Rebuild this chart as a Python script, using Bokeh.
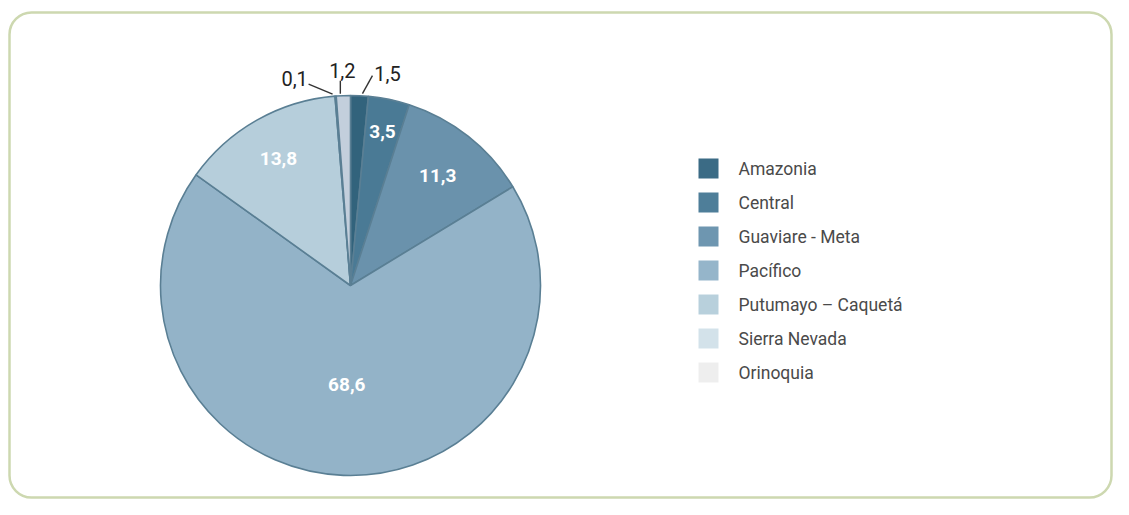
import math
from bokeh.plotting import figure
from bokeh.embed import file_html
from bokeh.resources import INLINE
from bokeh.core.properties import value

# ---- data ----
regions = ["Amazonia", "Central", "Guaviare - Meta", "Pacífico",
           "Putumayo – Caquetá", "Sierra Nevada", "Orinoquia"]
shares = [1.5, 3.5, 11.3, 68.6, 13.8, 1.2, 0.1]
share_labels = ["1,5", "3,5", "11,3", "68,6", "13,8", "1,2", "0,1"]
# order in which slices run clockwise from 12 o'clock
pie_order = [0, 1, 2, 3, 4, 6, 5]

# ---- styles ----
colors = ["#32637c", "#4a7a95", "#6a92ac", "#93b3c8", "#b6cedb", "#c3cfdc", "#e9e9ec"]
legend_colors = ["#3b6b85", "#4e7e99", "#6e96b0", "#95b5ca", "#b8d0dc", "#d3e2ea", "#eeeeee"]
inside = {1: 0.83, 2: 0.74, 3: 0.52, 4: 0.77}   # radius fraction of inner labels
# outside labels: (leader start offset, leader end offset, label offset) in px from rim point
outside = {0: ((3, 2), (13, 20), (28, 22)),
           6: ((-3, 2), (-27, 12), (-41, 18)),
           5: ((-3, 2), (-3, 15), (-1, 25))}

W, H = 1113, 499
cx, cy, R = 350, 214, 190

p = figure(width=W, height=H, x_range=(0, W), y_range=(0, H),
           x_axis_type=None, y_axis_type=None, output_backend="svg",
           toolbar_location=None, min_border=0)
p.grid.visible = False
p.outline_line_color = None
p.background_fill_color = "white"
p.border_fill_color = "white"

# rounded frame
p.quad(left=9, right=W - 2, bottom=2, top=H - 12, fill_color=None,
       line_color="#cdd8b0", line_width=2.5, border_radius=22)

# wedges
cum = 0.0
mids = {}
for i in pie_order:
    a0 = math.pi / 2 - 2 * math.pi * cum / 100
    a1 = math.pi / 2 - 2 * math.pi * (cum + shares[i]) / 100
    mids[i] = math.pi / 2 - 2 * math.pi * (cum + shares[i] / 2) / 100
    p.wedge(x=cx, y=cy, radius=R, start_angle=a0, end_angle=a1, direction="clock",
            fill_color=colors[i], line_color="#5a7f94", line_width=1.6)
    cum += shares[i]

# inner labels
for i, f in inside.items():
    a = mids[i]
    p.text(x=[cx + f * R * math.cos(a)], y=[cy + f * R * math.sin(a)], text=[share_labels[i]],
           text_color="white", text_font=value("Roboto"), text_font_style="bold",
           text_font_size="19px", text_align="center", text_baseline="middle")

# outside labels with leaders
for i, (s, e, l) in outside.items():
    a = mids[i]
    rx, ry = cx + R * math.cos(a), cy + R * math.sin(a)
    p.line(x=[rx + s[0], rx + e[0]], y=[ry + s[1], ry + e[1]], line_color="#333333", line_width=1.4)
    p.text(x=[rx + l[0]], y=[ry + l[1]], text=[share_labels[i]], text_color="#222222",
           text_font=value("Roboto"), text_font_size="20px",
           text_align="center", text_baseline="middle")

# legend
lx, ly0, step = 708, 331, 34
for k, name in enumerate(regions):
    y = ly0 - k * step
    p.rect(x=[lx], y=[y], width=20, height=20, fill_color=legend_colors[k], line_color=None)
    p.text(x=[lx + 30], y=[y], text=[name], text_color="#4a4a4a",
           text_font=value("Roboto"), text_font_size="17.5px",
           text_align="left", text_baseline="middle")

open("out.html", "w").write(file_html(p, INLINE))
